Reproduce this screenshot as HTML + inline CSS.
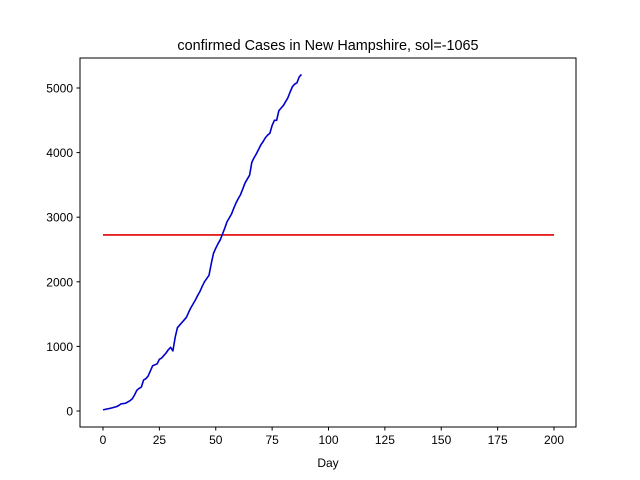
<!DOCTYPE html>
<html><head><meta charset="utf-8"><style>
body{margin:0;background:#fff;}
svg{display:block;font-family:"Liberation Sans","DejaVu Sans",sans-serif;}
</style></head><body>
<svg width="640" height="480" id="c">
<rect x="0" y="0" width="640" height="480" fill="#fff"/>
<text x="328" y="50" text-anchor="middle" font-size="14.4">confirmed Cases in New Hampshire, sol=-1065</text>
<g id="plot"></g>
<rect x="80" y="58" width="496" height="369" fill="none" stroke="#000" stroke-width="1"/>
<text x="328" y="467" text-anchor="middle" font-size="12">Day</text>
</svg>
<script>
const cases=[17,25,33,40,48,58,68,85,110,115,120,140,160,190,250,320,350,370,480,500,540,620,700,715,730,800,820,860,900,950,985,930,1140,1290,1330,1370,1410,1450,1530,1600,1660,1720,1790,1850,1930,2000,2050,2100,2280,2440,2520,2590,2650,2740,2830,2930,2990,3050,3140,3220,3290,3350,3440,3530,3590,3650,3850,3920,3980,4050,4120,4170,4230,4270,4300,4420,4500,4500,4650,4690,4730,4790,4850,4940,5020,5060,5080,5170,5210];
const threshold=[2725];
const xTicks=[0,25,50,75,100,125,150,175,200];
const yTicks=[0,1000,2000,3000,4000,5000];
const X=v=>103+v*2.255, Y=v=>411-v*0.0646;
const ns="http://www.w3.org/2000/svg", g=document.getElementById('plot');
function mk(t,a){const e=document.createElementNS(ns,t);for(const k in a)e.setAttribute(k,a[k]);g.appendChild(e);return e;}
xTicks.forEach(t=>{
 const l=mk('line',{x1:X(t),x2:X(t),y1:427,y2:430.5,stroke:'#000'});
 
 
 const tx=mk('text',{x:X(t),y:444,'text-anchor':'middle','font-size':12});tx.textContent=t;
 
 
});
yTicks.forEach(t=>{
 const l=mk('line',{x1:76.5,x2:80,y1:Y(t),y2:Y(t),stroke:'#000'});
 
 
 const tx=mk('text',{x:73,y:Y(t)+4.5,'text-anchor':'end','font-size':12});tx.textContent=t;
 
 
});
const r=mk('line',{x1:X(0),x2:X(200),y1:Y(threshold[0]),y2:Y(threshold[0]),stroke:'#e00000','stroke-width':1.6});


const p=mk('polyline',{points:cases.map((v,i)=>X(i)+','+Y(v)).join(' '),fill:'none',stroke:'#0000cc','stroke-width':1.6,'stroke-linejoin':'round'});


</script>
</body></html>
